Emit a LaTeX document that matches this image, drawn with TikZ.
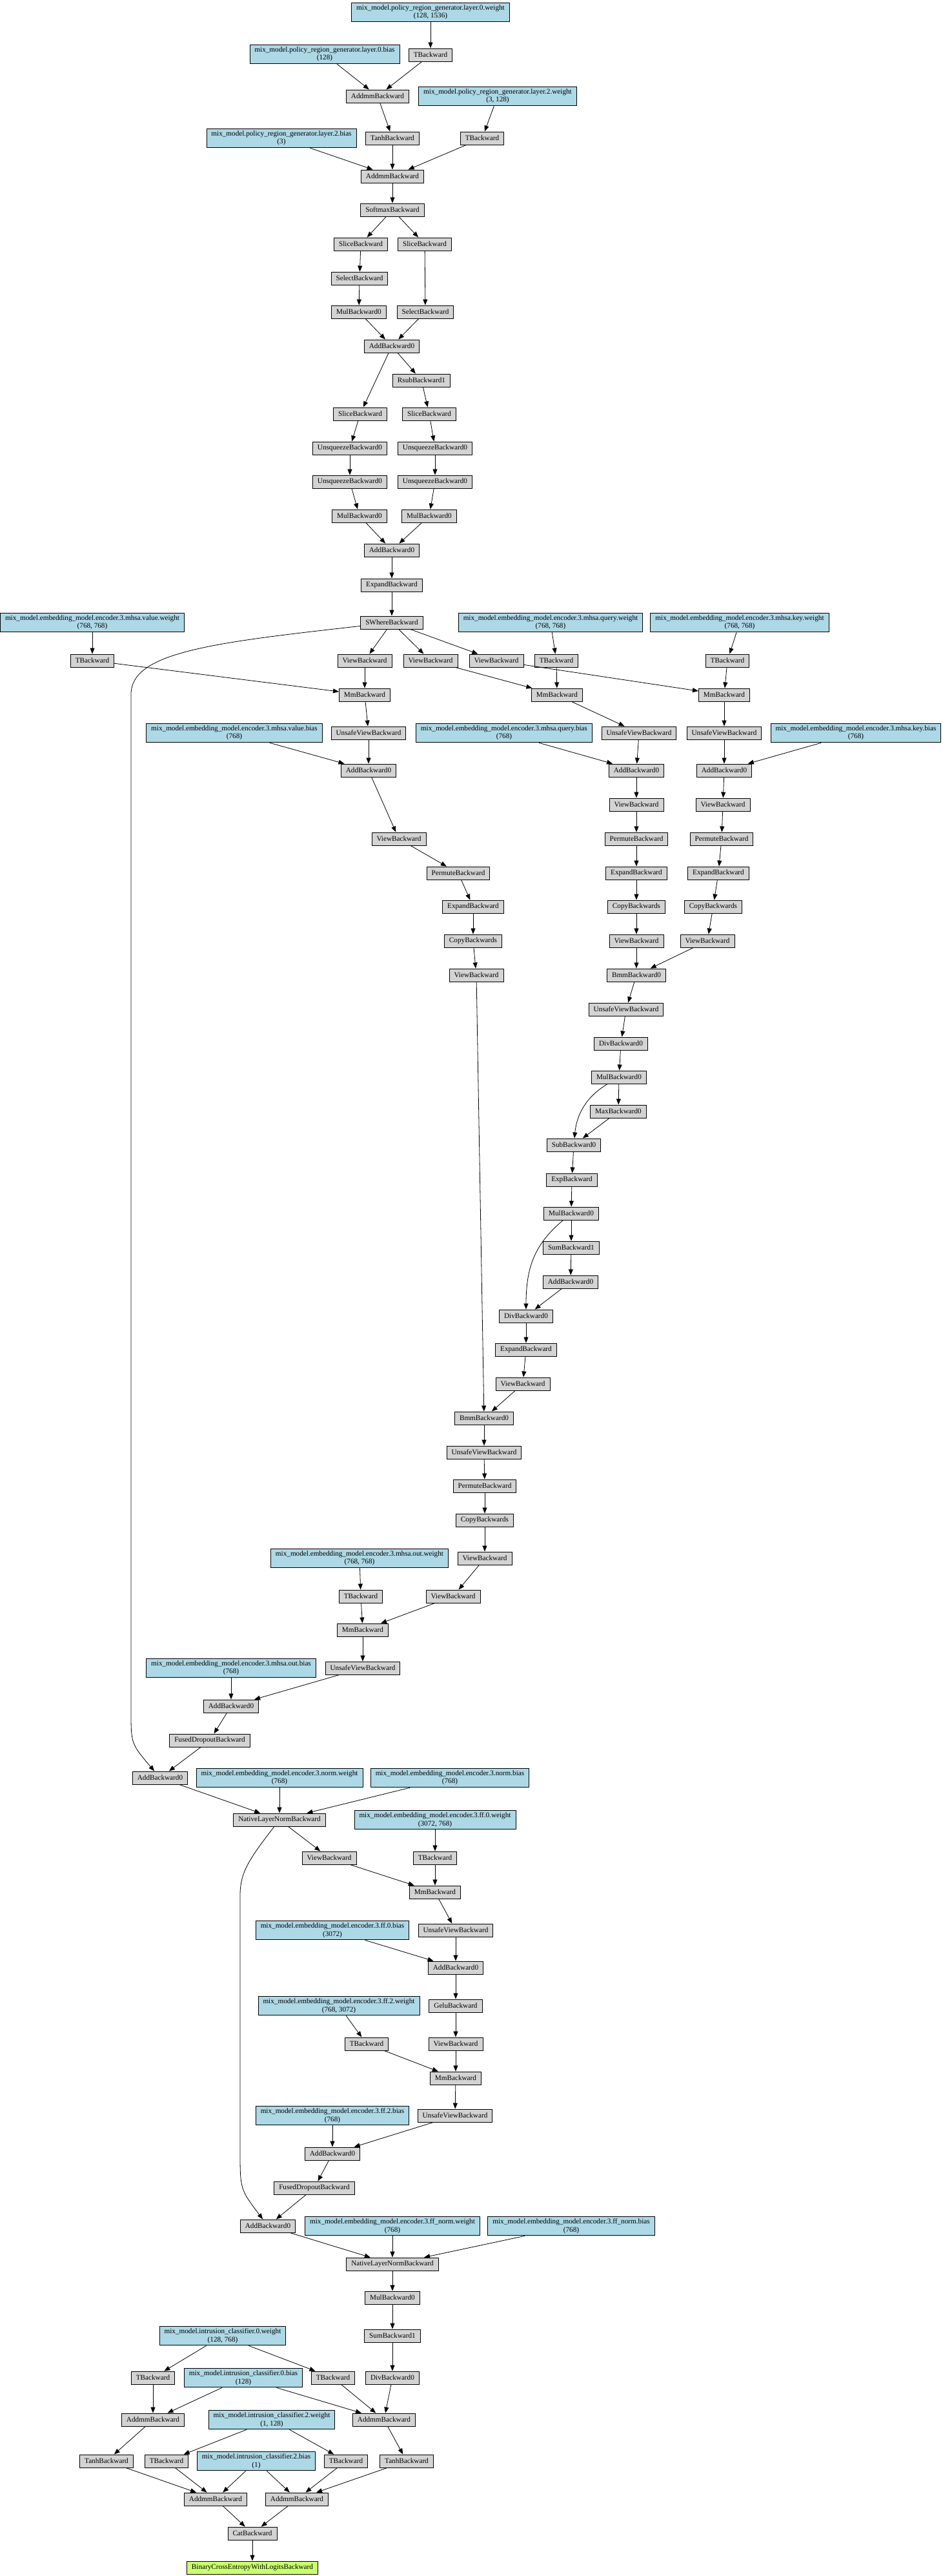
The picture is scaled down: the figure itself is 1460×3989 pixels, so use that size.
\documentclass[tikz,border=0pt]{standalone}
\usepackage{fontspec}
\setmainfont{Liberation Serif}
\usetikzlibrary{arrows.meta}
\definecolor{parblue}{HTML}{ADD8E6}
\definecolor{opgrey}{HTML}{D3D3D3}
\definecolor{outgreen}{HTML}{CAFF70}
\begin{document}
\begin{tikzpicture}[x=1pt,y=-1pt,font=\fontsize{11.2}{12.5}\selectfont,
    op/.style={draw,fill=opgrey,line width=0.9pt,minimum height=20pt,inner xsep=7.5pt,inner ysep=2pt},
    par/.style={op,fill=parblue,align=center,inner ysep=3.5pt},
    outp/.style={op,fill=outgreen},
    arr/.style={-{Triangle[length=9pt,width=7pt]},line width=0.8pt}]
            \useasboundingbox (0,0) rectangle (1460,3989);
            % policy region generator
            \node[par] (w0) at (667,19){mix\_model.policy\_region\_generator.layer.0.weight\\(128, 1536)};
            \node[op] (t0) at (667,85){TBackward};
            \node[par] (b0) at (503,84){mix\_model.policy\_region\_generator.layer.0.bias\\(128)};
            \node[op] (addmm0) at (585,149){AddmmBackward};
            \node[par] (w2) at (771,149){mix\_model.policy\_region\_generator.layer.2.weight\\(3, 128)};
            \node[op] (tanh0) at (608,214){TanhBackward};
            \node[op] (t2) at (747,214){TBackward};
            \node[par] (b2) at (436,214){mix\_model.policy\_region\_generator.layer.2.bias\\(3)};
            \node[op] (addmm2) at (608,273){AddmmBackward};
            \node[op] (softmax) at (608,325){SoftmaxBackward};
            \node[op] (sliceA) at (559,378){SliceBackward};
            \node[op] (sliceB) at (658,378){SliceBackward};
            \node[op] (selA) at (557,431){SelectBackward};
            \node[op] (mulA) at (556,483){MulBackward0};
            \node[op] (selB) at (659,483){SelectBackward};
            \node[op] (addA) at (607,536){AddBackward0};
            \node[op] (rsub) at (653,589){RsubBackward1};
            \node[op] (sliceC) at (558,641){SliceBackward};
            \node[op] (sliceD) at (665,641){SliceBackward};
            \node[op] (unsqA) at (542,694){UnsqueezeBackward0};
            \node[op] (unsqB) at (674,694){UnsqueezeBackward0};
            \node[op] (unsqC) at (542,746){UnsqueezeBackward0};
            \node[op] (unsqD) at (674,746){UnsqueezeBackward0};
            \node[op] (mulB) at (557,799){MulBackward0};
            \node[op] (mulC) at (665,799){MulBackward0};
            \node[op] (addB) at (607,852){AddBackward0};
            \node[op] (expA) at (607,906){ExpandBackward};
            \node[op] (swhere) at (607,964){SWhereBackward};

            % attention: value, query, key
            \node[par] (vw) at (143,964){mix\_model.embedding\_model.encoder.3.mhsa.value.weight\\(768, 768)};
            \node[par] (qw) at (853,964){mix\_model.embedding\_model.encoder.3.mhsa.query.weight\\(768, 768)};
            \node[par] (kw) at (1146,964){mix\_model.embedding\_model.encoder.3.mhsa.key.weight\\(768, 768)};
            \node[op] (tv) at (143,1023){TBackward};
            \node[op] (viewA) at (565,1023){ViewBackward};
            \node[op] (viewB) at (667,1023){ViewBackward};
            \node[op] (viewC) at (769,1023){ViewBackward};
            \node[op] (tq) at (862,1023){TBackward};
            \node[op] (tk) at (1127,1023){TBackward};
            \node[op] (mmv) at (565,1076){MmBackward};
            \node[op] (mmq) at (863,1076){MmBackward};
            \node[op] (mmk) at (1122,1076){MmBackward};
            \node[par] (vb) at (363,1135){mix\_model.embedding\_model.encoder.3.mhsa.value.bias\\(768)};
            \node[op] (uvv) at (571,1135){UnsafeViewBackward};
            \node[par] (qb) at (781,1135){mix\_model.embedding\_model.encoder.3.mhsa.query.bias\\(768)};
            \node[op] (uvq) at (990,1135){UnsafeViewBackward};
            \node[op] (uvk) at (1122,1135){UnsafeViewBackward};
            \node[par] (kb) at (1326,1135){mix\_model.embedding\_model.encoder.3.mhsa.key.bias\\(768)};
            \node[op] (addv) at (571,1193){AddBackward0};
            \node[op] (addq) at (986,1193){AddBackward0};
            \node[op] (addk) at (1122,1193){AddBackward0};
            \node[op] (viewq) at (986,1246){ViewBackward};
            \node[op] (viewk) at (1120,1246){ViewBackward};
            \node[op] (viewv) at (618,1299){ViewBackward};
            \node[op] (permq) at (986,1299){PermuteBackward};
            \node[op] (permk) at (1118,1299){PermuteBackward};
            \node[op] (permv) at (710,1352){PermuteBackward};
            \node[op] (expq) at (986,1352){ExpandBackward};
            \node[op] (expk) at (1113,1352){ExpandBackward};
            \node[op] (expv) at (733,1404){ExpandBackward};
            \node[op] (copyq) at (986,1404){CopyBackwards};
            \node[op] (copyk) at (1105,1404){CopyBackwards};
            \node[op] (copyv) at (733,1457){CopyBackwards};
            \node[op] (viewq2) at (986,1457){ViewBackward};
            \node[op] (viewk2) at (1096,1457){ViewBackward};
            \node[op] (viewv2) at (738,1510){ViewBackward};
            \node[op] (bmmA) at (986,1510){BmmBackward0};
            \node[op] (uvA) at (970,1563){UnsafeViewBackward};
            \node[op] (divA) at (962,1616){DivBackward0};
            \node[op] (mulD) at (959,1668){MulBackward0};
            \node[op] (maxA) at (958,1721){MaxBackward0};
            \node[op] (subA) at (889,1773){SubBackward0};
            \node[op] (expB) at (886,1827){ExpBackward};
            \node[op] (mulE) at (885,1879){MulBackward0};
            \node[op] (sumA) at (885,1932){SumBackward1};
            \node[op] (addC) at (884,1985){AddBackward0};
            \node[op] (divB) at (815,2038){DivBackward0};
            \node[op] (expC) at (815,2090){ExpandBackward};
            \node[op] (viewD) at (810,2143){ViewBackward};
            \node[op] (bmmB) at (750,2196){BmmBackward0};
            \node[op] (uvB) at (750,2249){UnsafeViewBackward};
            \node[op] (permB) at (751,2301){PermuteBackward};
            \node[op] (copyB) at (751,2354){CopyBackwards};
            \node[op] (viewE) at (751,2413){ViewBackward};
            \node[par] (ow) at (557,2413){mix\_model.embedding\_model.encoder.3.mhsa.out.weight\\(768, 768)};
            \node[op] (to) at (559,2472){TBackward};
            \node[op] (viewF) at (702,2472){ViewBackward};
            \node[op] (mmo) at (562,2524){MmBackward};
            \node[par] (ob) at (358,2583){mix\_model.embedding\_model.encoder.3.mhsa.out.bias\\(768)};
            \node[op] (uvo) at (562,2583){UnsafeViewBackward};
            \node[op] (addo) at (358,2642){AddBackward0};
            \node[op] (dropA) at (325,2695){FusedDropoutBackward};
            \node[op] (res1) at (248,2753){AddBackward0};
            \node[par] (nw) at (433,2753){mix\_model.embedding\_model.encoder.3.norm.weight\\(768)};
            \node[par] (nb) at (697,2753){mix\_model.embedding\_model.encoder.3.norm.bias\\(768)};
            \node[op] (nln1) at (433,2818){NativeLayerNormBackward};

            % feed forward
            \node[par] (f0w) at (674,2818){mix\_model.embedding\_model.encoder.3.ff.0.weight\\(3072, 768)};
            \node[op] (viewG) at (510,2877){ViewBackward};
            \node[op] (tf0) at (674,2877){TBackward};
            \node[op] (mmf0) at (674,2930){MmBackward};
            \node[par] (f0b) at (515,2989){mix\_model.embedding\_model.encoder.3.ff.0.bias\\(3072)};
            \node[op] (uvf0) at (706,2989){UnsafeViewBackward};
            \node[op] (addf0) at (706,3047){AddBackward0};
            \node[par] (f2w) at (525,3106){mix\_model.embedding\_model.encoder.3.ff.2.weight\\(768, 3072)};
            \node[op] (gelu) at (706,3106){GeluBackward};
            \node[op] (tf2) at (568,3165){TBackward};
            \node[op] (viewH) at (706,3165){ViewBackward};
            \node[op] (mmf2) at (706,3218){MmBackward};
            \node[par] (f2b) at (515,3276){mix\_model.embedding\_model.encoder.3.ff.2.bias\\(768)};
            \node[op] (uvf2) at (705,3276){UnsafeViewBackward};
            \node[op] (addf2) at (515,3335){AddBackward0};
            \node[op] (dropB) at (487,3388){FusedDropoutBackward};
            \node[op] (res2) at (415,3447){AddBackward0};
            \node[par] (fnw) at (608,3447){mix\_model.embedding\_model.encoder.3.ff\_norm.weight\\(768)};
            \node[par] (fnb) at (885,3447){mix\_model.embedding\_model.encoder.3.ff\_norm.bias\\(768)};
            \node[op] (nln2) at (608,3506){NativeLayerNormBackward};
            \node[op] (mulF) at (608,3558){MulBackward0};
            \node[op] (sumB) at (608,3617){SumBackward1};

            % intrusion classifier
            \node[par] (c0w) at (345,3617){mix\_model.intrusion\_classifier.0.weight\\(128, 768)};
            \node[op] (tc0a) at (237,3682){TBackward};
            \node[par] (c0b) at (377,3682){mix\_model.intrusion\_classifier.0.bias\\(128)};
            \node[op] (tc0b) at (516,3682){TBackward};
            \node[op] (divC) at (608,3682){DivBackward0};
            \node[op] (addmmA) at (237,3747){AddmmBackward};
            \node[par] (c2w) at (421,3747){mix\_model.intrusion\_classifier.2.weight\\(1, 128)};
            \node[op] (addmmB) at (595,3747){AddmmBackward};
            \node[op] (tanhA) at (165,3811){TanhBackward};
            \node[op] (tc2a) at (258,3811){TBackward};
            \node[par] (c2b) at (397,3811){mix\_model.intrusion\_classifier.2.bias\\(1)};
            \node[op] (tc2b) at (536,3811){TBackward};
            \node[op] (tanhB) at (630,3811){TanhBackward};
            \node[op] (addmmC) at (334,3870){AddmmBackward};
            \node[op] (addmmD) at (460,3870){AddmmBackward};
            \node[op] (cat) at (391,3923){CatBackward};
            \node[outp] (bce) at (391,3976){BinaryCrossEntropyWithLogitsBackward};

            \draw[arr] (w0) -- (t0);
            \draw[arr] (b0) -- (addmm0);
            \draw[arr] (t0) -- (addmm0);
            \draw[arr] (addmm0) -- (tanh0);
            \draw[arr] (w2) -- (t2);
            \draw[arr] (b2) -- (addmm2);
            \draw[arr] (tanh0) -- (addmm2);
            \draw[arr] (t2) -- (addmm2);
            \draw[arr] (addmm2) -- (softmax);
            \draw[arr] (softmax) -- (sliceA);
            \draw[arr] (softmax) -- (sliceB);
            \draw[arr] (sliceA) -- (selA);
            \draw[arr] (selA) -- (mulA);
            \draw[arr] (sliceB) -- (selB);
            \draw[arr] (mulA) -- (addA);
            \draw[arr] (selB) -- (addA);
            \draw[arr] (addA) -- (rsub);
            \draw[arr] (addA) -- (sliceC);
            \draw[arr] (rsub) -- (sliceD);
            \draw[arr] (sliceC) -- (unsqA);
            \draw[arr] (sliceD) -- (unsqB);
            \draw[arr] (unsqA) -- (unsqC);
            \draw[arr] (unsqB) -- (unsqD);
            \draw[arr] (unsqC) -- (mulB);
            \draw[arr] (unsqD) -- (mulC);
            \draw[arr] (mulB) -- (addB);
            \draw[arr] (mulC) -- (addB);
            \draw[arr] (addB) -- (expA);
            \draw[arr] (expA) -- (swhere);

            \draw[arr] (swhere) -- (viewA);
            \draw[arr] (swhere) -- (viewB);
            \draw[arr] (swhere) -- (viewC);
            \draw[arr] (swhere) .. controls (330,995) and (203,1010) .. (203,1075) -- (203,2650) .. controls (203,2700) .. (res1);
            \draw[arr] (vw) -- (tv);
            \draw[arr] (qw) -- (tq);
            \draw[arr] (kw) -- (tk);
            \draw[arr] (tv) -- (mmv);
            \draw[arr] (viewA) -- (mmv);
            \draw[arr] (viewB) -- (mmq);
            \draw[arr] (tq) -- (mmq);
            \draw[arr] (viewC) -- (mmk);
            \draw[arr] (tk) -- (mmk);
            \draw[arr] (mmv) -- (uvv);
            \draw[arr] (mmq) -- (uvq);
            \draw[arr] (mmk) -- (uvk);
            \draw[arr] (vb) -- (addv);
            \draw[arr] (uvv) -- (addv);
            \draw[arr] (qb) -- (addq);
            \draw[arr] (uvq) -- (addq);
            \draw[arr] (uvk) -- (addk);
            \draw[arr] (kb) -- (addk);
            \draw[arr] (addv) -- (viewv);
            \draw[arr] (addq) -- (viewq);
            \draw[arr] (addk) -- (viewk);
            \draw[arr] (viewq) -- (permq);
            \draw[arr] (viewk) -- (permk);
            \draw[arr] (viewv) -- (permv);
            \draw[arr] (permq) -- (expq);
            \draw[arr] (permk) -- (expk);
            \draw[arr] (permv) -- (expv);
            \draw[arr] (expq) -- (copyq);
            \draw[arr] (expk) -- (copyk);
            \draw[arr] (expv) -- (copyv);
            \draw[arr] (copyq) -- (viewq2);
            \draw[arr] (copyk) -- (viewk2);
            \draw[arr] (copyv) -- (viewv2);
            \draw[arr] (viewq2) -- (bmmA);
            \draw[arr] (viewk2) -- (bmmA);
            \draw[arr] (bmmA) -- (uvA);
            \draw[arr] (uvA) -- (divA);
            \draw[arr] (divA) -- (mulD);
            \draw[arr] (mulD) -- (maxA);
            \draw[arr] (mulD) .. controls (905,1700) and (893,1730) .. (subA);
            \draw[arr] (maxA) -- (subA);
            \draw[arr] (subA) -- (expB);
            \draw[arr] (expB) -- (mulE);
            \draw[arr] (mulE) -- (sumA);
            \draw[arr] (mulE) .. controls (830,1925) and (815,1960) .. (divB);
            \draw[arr] (sumA) -- (addC);
            \draw[arr] (addC) -- (divB);
            \draw[arr] (divB) -- (expC);
            \draw[arr] (expC) -- (viewD);
            \draw[arr] (viewv2) -- (bmmB);
            \draw[arr] (viewD) -- (bmmB);
            \draw[arr] (bmmB) -- (uvB);
            \draw[arr] (uvB) -- (permB);
            \draw[arr] (permB) -- (copyB);
            \draw[arr] (copyB) -- (viewE);
            \draw[arr] (viewE) -- (viewF);
            \draw[arr] (ow) -- (to);
            \draw[arr] (to) -- (mmo);
            \draw[arr] (viewF) -- (mmo);
            \draw[arr] (mmo) -- (uvo);
            \draw[arr] (ob) -- (addo);
            \draw[arr] (uvo) -- (addo);
            \draw[arr] (addo) -- (dropA);
            \draw[arr] (dropA) -- (res1);
            \draw[arr] (res1) -- (nln1);
            \draw[arr] (nw) -- (nln1);
            \draw[arr] (nb) -- (nln1);

            \draw[arr] (nln1) -- (viewG);
            \draw[arr] (nln1) .. controls (385,2880) and (372,2900) .. (372,2935) -- (372,3330) .. controls (372,3390) .. (res2);
            \draw[arr] (f0w) -- (tf0);
            \draw[arr] (viewG) -- (mmf0);
            \draw[arr] (tf0) -- (mmf0);
            \draw[arr] (mmf0) -- (uvf0);
            \draw[arr] (f0b) -- (addf0);
            \draw[arr] (uvf0) -- (addf0);
            \draw[arr] (addf0) -- (gelu);
            \draw[arr] (gelu) -- (viewH);
            \draw[arr] (f2w) -- (tf2);
            \draw[arr] (tf2) -- (mmf2);
            \draw[arr] (viewH) -- (mmf2);
            \draw[arr] (mmf2) -- (uvf2);
            \draw[arr] (f2b) -- (addf2);
            \draw[arr] (uvf2) -- (addf2);
            \draw[arr] (addf2) -- (dropB);
            \draw[arr] (dropB) -- (res2);
            \draw[arr] (res2) -- (nln2);
            \draw[arr] (fnw) -- (nln2);
            \draw[arr] (fnb) -- (nln2);
            \draw[arr] (nln2) -- (mulF);
            \draw[arr] (mulF) -- (sumB);
            \draw[arr] (sumB) -- (divC);

            \draw[arr] (c0w) -- (tc0a);
            \draw[arr] (c0w) -- (tc0b);
            \draw[arr] (tc0a) -- (addmmA);
            \draw[arr] (c0b) -- (addmmA);
            \draw[arr] (c0b) -- (addmmB);
            \draw[arr] (tc0b) -- (addmmB);
            \draw[arr] (divC) -- (addmmB);
            \draw[arr] (addmmA) -- (tanhA);
            \draw[arr] (addmmB) -- (tanhB);
            \draw[arr] (c2w) -- (tc2a);
            \draw[arr] (c2w) -- (tc2b);
            \draw[arr] (tanhA) -- (addmmC);
            \draw[arr] (tc2a) -- (addmmC);
            \draw[arr] (c2b) -- (addmmC);
            \draw[arr] (c2b) -- (addmmD);
            \draw[arr] (tc2b) -- (addmmD);
            \draw[arr] (tanhB) -- (addmmD);
            \draw[arr] (addmmC) -- (cat);
            \draw[arr] (addmmD) -- (cat);
            \draw[arr] (cat) -- (bce);
        \end{tikzpicture}
\end{document}
